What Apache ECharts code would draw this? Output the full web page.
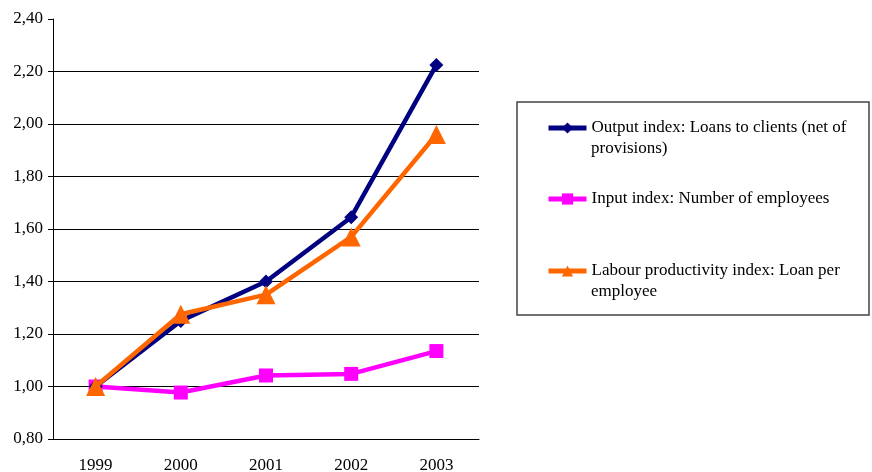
<!DOCTYPE html>
<html>
<head>
<meta charset="utf-8">
<script src="https://cdn.jsdelivr.net/npm/echarts@6/dist/echarts.min.js"></script>
<style>
  html, body { margin: 0; padding: 0; background: #fff; }
  #chart { width: 872px; height: 472px; }
</style>
</head>
<body>
<div id="chart"></div>
<script>
const years = ['1999', '2000', '2001', '2002', '2003']
const outputIndex = [1.0, 1.25, 1.40, 1.645, 2.225]
const inputIndex = [1.0, 0.977, 1.042, 1.048, 1.135]
const labourIndex = [1.0, 1.275, 1.35, 1.57, 1.96]

const seriesNames = [
  'Output index: Loans to clients (net of provisions)',
  'Input index: Number of employees',
  'Labour productivity index: Loan per employee'
]
// legend text as it wraps in the box
const legendLines = [
  ['Output index: Loans to clients (net of', 'provisions)'],
  ['Input index: Number of employees'],
  ['Labour productivity index: Loan per', 'employee']
]

const font = 'Liberation Serif, Times New Roman, serif'
const chart = echarts.init(document.getElementById('chart'))

const legendBase = {
  left: 546,
  orient: 'vertical',
  padding: 0,
  itemWidth: 38,
  itemHeight: 14,
  itemGap: 0,
  lineStyle: { width: 5 },
  formatter: name => legendLines[seriesNames.indexOf(name)][0],
  textStyle: {
    fontFamily: font,
    fontSize: 17,
    color: '#000',
    lineHeight: 22
  }
}

const secondLine = (text, top) => ({
  type: 'text',
  left: 591,
  top: top,
  style: { text: text, font: '17px ' + font, fill: '#000' }
})

chart.setOption({
  animation: false,
  grid: { left: 53, right: 393, top: 19, bottom: 33, outerBoundsMode: 'none' },
  graphic: [
    {
      type: 'rect',
      shape: { x: 517, y: 102, width: 352, height: 213 },
      style: { fill: 'none', stroke: '#444', lineWidth: 1.5 }
    },
    secondLine(legendLines[0][1], 140),
    secondLine(legendLines[2][1], 283)
  ],
  legend: [
    Object.assign({}, legendBase, { top: 117, data: [seriesNames[0]] }),
    Object.assign({}, legendBase, { top: 188, data: [seriesNames[1]] }),
    Object.assign({}, legendBase, { top: 260, data: [seriesNames[2]] })
  ],
  xAxis: {
    type: 'category',
    data: years,
    boundaryGap: true,
    axisLine: { lineStyle: { color: '#000', width: 1 } },
    axisTick: { length: 5, lineStyle: { color: '#000' } },
    axisLabel: { fontFamily: font, fontSize: 17, color: '#000', margin: 18 }
  },
  yAxis: {
    type: 'value',
    min: 0.8,
    max: 2.4,
    interval: 0.2,
    axisLine: { show: true, lineStyle: { color: '#000', width: 1 } },
    axisTick: { show: true, length: 5, lineStyle: { color: '#000' } },
    axisLabel: {
      fontFamily: font,
      fontSize: 17,
      color: '#000',
      margin: 10,
      formatter: v => v.toFixed(2).replace('.', ',')
    },
    splitLine: {
      show: true,
      lineStyle: {
        color: ['#000', '#000', '#000', '#000', '#000', '#000', '#000', '#000', 'rgba(0,0,0,0)'],
        width: 1
      }
    }
  },
  series: [
    {
      name: seriesNames[0],
      type: 'line',
      data: outputIndex,
      symbol: 'diamond',
      symbolSize: 14,
      lineStyle: { width: 4.5, color: '#000080' },
      itemStyle: { color: '#000080' },
      z: 3
    },
    {
      name: seriesNames[1],
      type: 'line',
      data: inputIndex,
      symbol: 'rect',
      symbolSize: 14,
      lineStyle: { width: 4.5, color: '#ff00ff' },
      itemStyle: { color: '#ff00ff' },
      z: 2
    },
    {
      name: seriesNames[2],
      type: 'line',
      data: labourIndex,
      symbol: 'triangle',
      symbolSize: 19,
      lineStyle: { width: 4.5, color: '#ff6600' },
      itemStyle: { color: '#ff6600' },
      z: 4
    }
  ]
})
</script>
</body>
</html>
